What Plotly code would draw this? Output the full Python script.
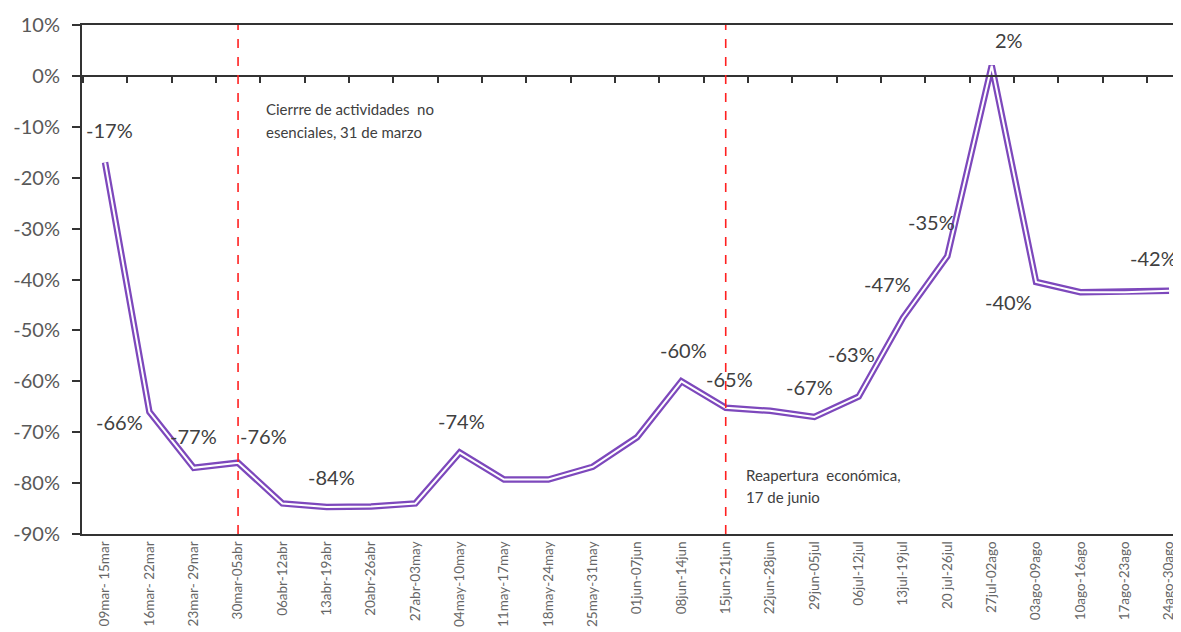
import plotly.graph_objects as go

weeks = ["09mar- 15mar", "16mar- 22mar", "23mar- 29mar", "30mar-05abr", "06abr-12abr",
         "13abr-19abr", "20abr-26abr", "27abr-03may", "04may-10may", "11may-17may",
         "18may-24may", "25may-31may", "01jun-07jun", "08jun-14jun", "15jun-21jun",
         "22jun-28jun", "29jun-05jul", "06jul-12jul", "13jul-19jul", "20 jul-26jul",
         "27jul-02ago", "03ago-09ago", "10ago-16ago", "17ago-23ago", "24ago-30ago"]
values = [-17, -66, -77, -76, -84, -84.7, -84.6, -84, -74, -79.3,
          -79.3, -76.8, -71, -60, -65.2, -65.8, -67, -63, -47.5, -35.4,
          2, -40.5, -42.5, -42.5, -42.2]

label_idx = [0, 1, 2, 3, 5, 8, 13, 14, 16, 17, 18, 19, 20, 21, 24]
label_txt = ["-17%", "-66%", "-77%", "-76%", "-84%", "-74%", "-60%", "-65%",
             "-67%", "-63%", "-47%", "-35%", "2%", "-40%", "-42%"]
label_shift = [(4, 32), (-30, -10), (0, 32), (25, 27), (5, 30), (2, 32), (2, 31), (4, 29),
               (-5, 30), (-7, 43), (-16, 34), (-16, 34), (17, 26), (-28, -20), (-16, 33)]

y_ticks = [10, 0, -10, -20, -30, -40, -50, -60, -70, -80, -90]
y_tick_text = ["10%", "0%", "-10%", "-20%", "-30%", "-40%", "-50%", "-60%", "-70%", "-80%", "-90%"]

events_x = ["30mar-05abr", "15jun-21jun"]
event_lines = [["Cierrre de actividades  no", "esenciales, 31 de marzo"],
               ["Reapertura  económica,", "17 de junio"]]
event_text_y = [[-6.5, -11], [-78.5, -82.8]]
event_xshift = [26, 18]

FONT = "Lato"
fig = go.Figure()
fig.add_trace(go.Scatter(x=weeks, y=values, mode="lines",
                         line=dict(color="#7D48BC", width=6.5), hoverinfo="skip"))
fig.add_trace(go.Scatter(x=weeks, y=values, mode="lines",
                         line=dict(color="white", width=2), hoverinfo="skip"))
# zero-line axis carrying the category ticks
fig.add_trace(go.Scatter(x=weeks, y=values, xaxis="x2", mode="lines",
                         line=dict(color="rgba(0,0,0,0)"), hoverinfo="skip"))

for ex in events_x:
    fig.add_shape(type="line", x0=ex, x1=ex, y0=-90, y1=10, xref="x", yref="y",
                  line=dict(color="#FF2020", width=1.6, dash="dash"))

annotations = []
for i, t, (dx, dy) in zip(label_idx, label_txt, label_shift):
    annotations.append(dict(x=weeks[i], y=values[i], text=t, showarrow=False,
                            xshift=dx, yshift=dy,
                            font=dict(family=FONT, size=20, color="#404040")))
for ex, lines, ys, dx in zip(events_x, event_lines, event_text_y, event_xshift):
    for ln, yy in zip(lines, ys):
        annotations.append(dict(x=ex, y=yy, xref="x", yref="y", xshift=dx,
                                xanchor="left", yanchor="middle", showarrow=False,
                                text=ln, font=dict(family=FONT, size=15, color="#404040")))

# page body has an 8px default margin; margins compensate for it
fig.update_layout(
    width=1181, height=632,
    margin=dict(l=74, r=0, t=17, b=106),
    paper_bgcolor="white", plot_bgcolor="white",
    showlegend=False,
    annotations=annotations,
    xaxis=dict(type="category", range=[-0.52, 24.45], showgrid=False, zeroline=False,
               showline=True, linecolor="#333333", linewidth=2, mirror=True,
               ticks="", tickangle=-90, automargin=False,
               tickfont=dict(family=FONT, size=13.5, color="#666666")),
    xaxis2=dict(type="category", overlaying="x", anchor="free", position=0.9,
                side="bottom", range=[-0.52, 24.45], showgrid=False, zeroline=False,
                showline=True, linecolor="#333333", linewidth=2, automargin=False,
                ticks="outside", ticklen=6, tickwidth=2, tickcolor="#333333",
                tickson="boundaries", showticklabels=False),
    yaxis=dict(range=[-90, 10], tickvals=y_ticks, ticktext=y_tick_text,
               showgrid=False, zeroline=False, automargin=False,
               showline=True, linecolor="#333333", linewidth=2,
               ticks="outside", ticklen=8, tickwidth=2, tickcolor="#333333",
               ticklabelstandoff=8,
               tickfont=dict(family=FONT, size=20, color="#595959")),
)

fig.write_html("out.html")
